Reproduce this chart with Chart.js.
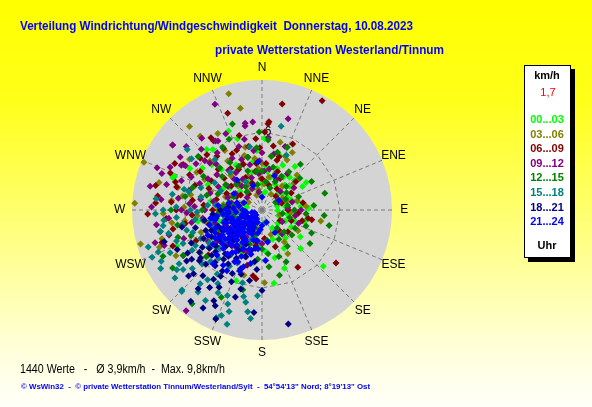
<!DOCTYPE html>
<html>
<head>
<meta charset="utf-8">
<script src="https://cdn.jsdelivr.net/npm/chart.js@4.4.0/dist/chart.umd.min.js"></script>
<style>
  html, body { margin: 0; padding: 0; background: #ffffff; }
  #chart { display: block; }
</style>
</head>
<body>
<canvas id="chart" width="592" height="407"></canvas>
<script>
// Richtung (Grad) / Geschwindigkeit (km/h), je Zeitblock
const directions = ["N", "NNE", "NE", "ENE", "E", "ESE", "SE", "SSE", "S", "SSW", "SW", "WSW", "W", "WNW", "NW", "NNW"];
const timeLabels = ["00...03", "03...06", "06...09", "09...12", "12...15", "15...18", "18...21", "21...24"];
const timeColors = ["#00ff00", "#808000", "#800000", "#800080", "#008000", "#008080", "#000080", "#0000ff"];
const ringValues = [6];
const maxSpeed = 10;

const h00 = [[337,6.6],[341,5.8],[37,4.2],[40,3.3],[71.6,2.4],[77,2.8],[132.5,6.4],[159,4.8],[170.7,5.7],[150,3.4],[317.5,6.3],[321,6.0],[291,7.2],[290,7.3],[200,5.8],[189,4.1],[247,7.1],[305,5.6],[315,4.4],[330,4.0],[345,3.0],[355,4.6],[5,3.4],[15,2.6],[25,3.8],[50,2.8],[60,3.6],[85,3.0],[95,2.4],[105,3.4],[115,2.0],[125,3.6],[140,2.8],[160,2.4],[175,3.2],[195,2.2],[215,2.4],[235,3.0],[255,3.4],[270,2.8],[280,4.0],[300,3.4],[320,2.8],[340,1.8],[10,1.4],[45,1.8],[75,1.2],[110,1.4],[150,1.6],[220,1.2],[280,1.2],[310,2.2],[260,5.0],[240,4.4],[2,5.5],
  [0,2.0],[8,3.0],[18,4.4],[28,2.2],[33,3.0],[42,2.6],[52,2.0],[58,4.0],[65,2.2],[80,1.8],[88,3.6],[100,2.0],[120,2.6],[130,1.6],[135,4.2],[145,2.2],[165,3.8],[170,1.0],[185,2.8],[205,3.6],[225,2.0],[245,1.6],[265,1.8],[285,2.6],[295,4.6],[305,3.0],[312,5.2],[325,3.6],[335,2.4],[350,3.8],[358,1.2],[20,3.4],[48,3.4],[68,1.6],[92,1.2],[108,2.6],[250,3.8],[230,4.6],[275,5.6],[300,6.4]];
const h03 = [[344,9.3],[348,8.0],[319,8.5],[292,9.8],[273,9.8],[254.4,9.7],[254,8.0],[250,8.4],[242,7.5],[27.8,5.0],[23.5,4.5],[9.5,4.2],[26.6,4.3],[100.5,4.6],[178,5.6],[149.4,3.9],[195.5,5.2],[313,5.5],[315,5.2],[285,6.7],[280,6.2],[300,5.8],[325,4.6],[335,3.8],[345,5.0],[355,3.2],[5,2.0],[20,3.0],[40,2.4],[60,1.8],[75,2.8],[95,2.2],[120,3.2],[135,2.4],[160,2.0],[190,2.6],[210,3.2],[225,2.0],[245,3.6],[260,2.8],[270,3.4],[290,4.2],[305,3.4],[315,2.6],[330,2.2],[350,1.6],[265,5.0],[275,1.8],[300,1.2],[235,5.8],[285,8.2],[330,6.8],[340,1.2],[15,5.4],
  [0,3.6],[12,2.6],[30,1.4],[50,3.2],[70,2.0],[85,3.4],[105,1.4],[145,3.0],[200,1.4],[218,2.6],[230,3.4],[240,1.6],[252,2.2],[258,4.4],[268,2.4],[278,3.0],[282,4.8],[288,1.6],[295,2.6],[298,5.0],[308,4.4],[318,3.6],[322,1.8],[328,5.4],[338,2.8],[342,4.4],[352,4.0],[358,2.4],[310,6.4],[272,6.0],[262,7.0],[320,7.4],[290,3.0],[250,5.0],[45,3.8],
  [268,7.6],[276,7.0],[282,5.6],[262,6.0],[305,6.8]];
const h06 = [[10.8,8.3],[28.8,9.6],[340.5,7.9],[4.5,6.8],[4,6.65],[324.7,6.8],[325,6.5],[306,8.5],[298,7.6],[277.7,8.1],[273.8,8.2],[100,3.6],[101,3.9],[80,3.2],[125.6,7.0],[148,5.2],[16.7,4.0],[17.8,4.3],[332,4.9],[337,5.0],[252,8.1],[187.8,5.1],[185,5.3],[285,6.8],[290,5.5],[300,4.5],[310,3.8],[315,6.0],[320,5.4],[330,3.6],[345,4.2],[350,3.0],[0,2.4],[15,2.0],[30,2.8],[45,1.5],[60,2.6],[90,2.0],[110,2.4],[130,2.6],[160,3.0],[175,2.2],[200,2.0],[220,3.6],[240,3.8],[255,4.2],[265,3.3],[275,4.5],[280,2.6],[295,3.0],[305,2.0],[320,1.6],[340,2.2],[260,6.0],[270,6.6],[230,5.4],[250,2.0],[215,2.6],[355,5.5],[310,6.2],[265,7.4],
  [5,3.6],[10,5.0],[22,3.2],[35,2.0],[50,3.4],[70,1.6],[95,2.8],[105,3.2],[120,1.6],[140,2.0],[190,2.8],[205,3.4],[225,2.4],[235,1.6],[245,3.0],[262,2.4],[270,3.8],[278,5.4],[283,3.6],[292,4.4],[298,2.2],[302,5.6],[308,3.0],[313,4.6],[318,2.8],[323,4.0],[328,5.6],[333,2.8],[338,3.8],[343,6.0],[348,5.0],[353,3.6],[358,4.8],[288,7.0],[296,6.2],[275,7.0],[245,5.6],[195,4.4],[2,6.0],[25,5.6],
  [258,7.0],[266,5.4],[283,8.4],[292,7.6],[300,7.0],[268,8.8],[248,7.4]];
const h09 = [[336,8.9],[16,7.3],[354,6.8],[348.6,6.6],[349,6.8],[334.6,6.5],[326,6.4],[327.5,6.3],[310,7.6],[306,8.5],[303,7.5],[299,7.1],[292,8.7],[290,8.2],[310.7,5.8],[271.6,8.5],[253,8.6],[258,8.0],[217,9.7],[0,4.4],[90,3.0],[265,7.2],[278,6.5],[285,5.8],[295,6.0],[300,4.8],[315,5.0],[320,4.0],[330,4.6],[340,5.2],[345,3.6],[355,2.8],[10,3.2],[25,2.6],[45,2.0],[75,2.4],[100,2.6],[120,1.8],[280,3.8],[270,4.4],[260,5.5],[250,6.4],[240,4.8],[290,2.8],[305,3.2],[320,2.4],[335,1.8],[350,1.4],[270,2.2],[250,3.0],[230,2.6],[215,3.5],[310,1.5],[325,3.5],[275,5.6],[5,5.6],[285,7.6],[320,7.2],[240,7.0],[200,3.4],
  [3,3.0],[12,4.4],[20,5.2],[35,3.4],[55,3.0],[65,1.4],[85,2.0],[110,3.0],[140,2.4],[180,2.6],[210,2.4],[225,3.8],[235,4.2],[245,2.2],[255,3.8],[262,4.6],[268,3.2],[273,5.2],[280,4.8],[283,2.4],[288,4.2],[293,5.2],[298,3.8],[302,2.4],[308,4.4],[312,5.4],[318,3.2],[322,5.6],[328,2.8],[332,3.8],[338,4.2],[342,2.6],[346,5.6],[352,4.6],[357,3.8],[290,6.6],[300,6.8],[270,6.2],[255,7.4],[282,8.8],
  [262,8.2],[268,5.8],[276,7.8],[295,7.8],[305,6.2],[315,6.6],[250,8.0]];
const h12 = [[341,7.0],[103,5.3],[119,2.9],[173,4.4],[216.7,9.0],[14.7,3.4],[46,2.6],[55,2.3],[237,8.2],[193.5,6.3],[172,3.4],[160,3.8],[328,5.7],[326,4.4],[10,4.2],[30,3.0],[70,3.0],[90,2.5],[110,3.6],[130,3.0],[150,2.6],[180,3.0],[200,2.8],[230,5.6],[250,5.8],[270,4.6],[290,3.6],[310,4.0],[340,3.2],[355,4.8],[20,1.8],[60,1.2],[100,1.6],[140,1.8],[200,1.5],[240,1.2],[280,2.2],[320,1.8],[350,2.0],[5,5.4],[40,4.6],[85,4.0],[125,4.5],[165,5.2],[215,4.2],[260,6.6],[300,5.2],[335,6.0],[260,2.5],[315,2.8],[75,5.0],
  [0,3.0],[8,2.2],[15,4.6],[25,2.4],[35,3.6],[50,3.8],[65,2.0],[80,2.0],[95,3.4],[105,2.2],[115,4.2],[135,2.4],[145,3.4],[155,4.4],[170,2.4],[185,3.8],[195,2.0],[210,3.4],[225,3.0],[235,4.6],[245,3.6],[255,2.2],[265,3.4],[275,3.0],[285,4.4],[295,2.4],[305,3.4],[315,4.6],[325,2.2],[332,3.8],[345,4.2],[352,3.0],[358,6.0],[22,5.2],[95,4.8],[240,7.0],[205,7.4],[280,6.0],[60,4.4],
  [270,7.0],[252,6.8],[288,5.6],[310,6.4],[245,8.4]];
const h15 = [[261,7.7],[248,8.6],[232,8.5],[225,8.7],[201,8.7],[197,9.2],[188,7.9],[183,6.6],[200,7.7],[211,6.6],[202,7.1],[203,9.0],[224.6,8.8],[246.7,9.2],[243,8.7],[237,7.6],[230,7.0],[220,7.4],[215,6.0],[240,6.2],[250,7.0],[255,6.0],[258,8.0],[265,6.6],[270,5.5],[245,5.2],[235,5.0],[225,5.6],[210,5.0],[205,4.5],[230,3.8],[240,3.2],[250,4.0],[260,4.6],[275,4.2],[220,3.0],[228,2.2],[238,2.6],[248,2.0],[195,5.8],[12.9,6.6],[309,7.4],[24,4.6],[306,6.7],[349,4.95],[317,5.3],[285,6.2],[295,3.5],[330,2.5],[218,8.0],[192,6.8],[228,4.4],[262,3.0],[280,7.0],[268,8.2],
  [200,2.4],[210,3.0],[215,4.2],[222,5.0],[228,6.2],[233,7.6],[238,4.8],[242,5.8],[247,6.6],[252,5.6],[256,7.4],[260,6.2],[264,7.6],[268,5.0],[272,6.6],[276,3.6],[282,4.8],[290,5.0],[218,6.8],[208,7.2],[212,8.2],[198,8.2],[190,7.2],[186,8.4],[240,9.0],[252,9.2],[235,8.0],[245,7.8],[225,3.4],[255,3.0],[265,2.4],[232,1.8],[243,1.4],[300,4.2],[320,3.8],
  [262,5.2],[270,7.6],[276,8.2],[284,5.8],[258,4.0]];
const h18 = [[218,8.9],[211,8.8],[208,7.9],[206,8.2],[203,9.1],[184.5,7.9],[167,9.0],[252,7.9],[227,7.2],[222,6.8],[215,6.5],[231,6.2],[236,5.8],[240,6.6],[228,5.2],[220,5.6],[212,6.0],[205,5.4],[200,4.8],[232,4.5],[244,5.0],[248,4.2],[225,4.0],[216,4.4],[210,3.6],[238,3.8],[195,6.3],[190,5.5],[223,3.2],[233,2.8],[242,3.4],[218,2.5],[205,2.9],[228,7.6],[214,7.2],[236,7.0],[245,6.0],[255,5.3],[260,4.5],[250,3.6],[199,3.8],[185,4.6],[230,1.8],[240,1.2],[220,1.5],[212,4.9],[226,6.0],[234,5.0],[219,7.8],[180,6.2],[197,7.0],[209,6.8],[258,6.3],[265,3.8],
  [190,2.4],[195,3.2],[200,3.8],[205,1.8],[210,2.6],[215,3.4],[220,4.4],[225,2.2],[230,3.2],[235,4.0],[240,2.4],[245,3.4],[250,4.6],[255,2.8],[260,3.6],[265,2.6],[270,3.2],[275,2.6],[228,4.8],[238,5.4],[208,4.2],[213,5.6],[218,4.8],[222,5.4],[232,6.0],[242,4.4],[203,6.0],[198,5.2],[188,4.0],[215,1.4],[225,0.8],[245,2.0],[252,1.4],[235,6.6],[245,7.2]];
const h21 = [[200,1.0],[205,1.5],[210,2.0],[215,2.5],[220,3.0],[225,3.5],[230,4.0],[235,2.2],[240,2.8],[245,3.3],[250,1.8],[255,2.4],[260,1.2],[265,2.0],[270,1.5],[212,3.8],[218,4.3],[228,1.4],[232,2.6],[238,3.6],[242,1.9],[248,2.5],[252,3.1],[258,3.7],[222,1.2],[226,2.0],[236,1.0],[246,1.4],[256,0.8],[196,2.4],[198,3.2],[204,3.9],[208,4.5],[214,1.8],[224,2.7],[234,3.1],[244,4.0],[254,4.2],[264,3.0],[268,2.6],[274,2.2],[280,1.8],[190,1.8],[186,3.0],[192,4.2],[216,3.3],[230,2.3],[240,2.1],[250,2.9],[262,3.5],[219,2.2],[227,3.0],[233,1.7],[243,2.4],[207,2.7],[213,1.2],[235,4.6],[225,4.9],[245,4.6],[355,3.7],[176,3.9],[20,2.8],[60,1.5],[150,2.0],[300,2.5],[320,3.0],[180,1.2],[200,5.0],[215,5.2],
  [185,1.5],[188,2.4],[194,3.5],[202,2.0],[206,3.3],[209,1.2],[211,2.9],[217,1.6],[221,3.6],[223,2.4],[229,3.4],[231,1.2],[237,2.9],[239,4.2],[241,3.1],[247,2.0],[249,3.8],[251,2.4],[257,1.6],[259,2.7],[261,4.0],[266,1.3],[271,2.8],[276,3.4],[282,2.6],[286,2.0],[292,1.5],[205,4.4],[215,4.0],[225,4.2],[232,3.6],[237,4.0],[210,0.8],[230,0.6],[250,0.6],[190,3.0],[170,2.5],[160,1.0],[0,1.0],[340,2.0],[210,5.4],[222,5.6],[198,4.6]];
const seriesValues = [h00, h03, h06, h09, h12, h15, h18, h21];

function polarToXY(p) {
    const a = p[0] * Math.PI / 180;
    return { x: p[1] * Math.sin(a), y: p[1] * Math.cos(a) };
}

const datasets = seriesValues.map((vals, i) => ({
    label: timeLabels[i],
    data: vals.map(polarToXY),
    backgroundColor: timeColors[i],
    borderColor: timeColors[i],
    borderWidth: 0,
    pointStyle: "rectRot",
    pointRadius: 3.5,
    pointHoverRadius: 3.5,
    order: seriesValues.length - 1 - i,
    clip: false,
}));

const backdrop = {
    id: "backdrop",
    beforeDraw(chart) {
        const ctx = chart.ctx;
        const g = ctx.createLinearGradient(0, 0, 0, chart.height);
        g.addColorStop(0, "#ffff00");
        g.addColorStop(0.25, "#ffff1a");
        g.addColorStop(0.6, "#ffff88");
        g.addColorStop(0.85, "#ffffd8");
        g.addColorStop(1, "#fffffa");
        ctx.save();
        ctx.fillStyle = g;
        ctx.fillRect(0, 0, chart.width, chart.height);
        ctx.restore();
    },
    beforeDatasetsDraw(chart) {
        const ctx = chart.ctx;
        const xs = chart.scales.x, ys = chart.scales.y;
        const pt = (deg, v) => {
            const a = deg * Math.PI / 180;
            return [xs.getPixelForValue(v * Math.sin(a)), ys.getPixelForValue(v * Math.cos(a))];
        };
        const [cx, cy] = pt(0, 0);
        const R = xs.getPixelForValue(maxSpeed) - cx;
        ctx.save();
        ctx.fillStyle = "#d4d4d4";
        ctx.beginPath();
        ctx.arc(cx, cy, R, 0, Math.PI * 2);
        ctx.fill();

        ctx.strokeStyle = "#7a7a7a";
        ctx.lineWidth = 1;
        ctx.setLineDash([4, 3]);
        directions.forEach((d, i) => {
            const [x, y] = pt(i * 22.5, maxSpeed);
            ctx.beginPath();
            ctx.moveTo(cx, cy);
            ctx.lineTo(x, y);
            ctx.stroke();
        });
        ringValues.forEach(v => {
            ctx.beginPath();
            directions.forEach((d, i) => {
                const [x, y] = pt(i * 22.5, v);
                if (i === 0) ctx.moveTo(x, y); else ctx.lineTo(x, y);
            });
            ctx.closePath();
            ctx.stroke();
        });
        ctx.setLineDash([]);

        ctx.fillStyle = "#000000";
        ctx.font = "12px Arial, 'Liberation Sans', sans-serif";
        ctx.textAlign = "center";
        ctx.textBaseline = "middle";
        directions.forEach((d, i) => {
            const [x, y] = pt(i * 22.5, maxSpeed * 1.095);
            ctx.fillText(d, x, y);
        });
        ringValues.forEach(v => {
            const [x, y] = pt(0, v);
            ctx.fillText(String(v), x + 6, y);
        });
        ctx.restore();
    },
    afterDraw(chart) {
        const ctx = chart.ctx;
        ctx.save();
        ctx.textBaseline = "alphabetic";
        ctx.textAlign = "left";
        ctx.fillStyle = "#0000ff";
        ctx.font = "bold 13px Arial, 'Liberation Sans', sans-serif";
        ctx.fillText("Verteilung Windrichtung/Windgeschwindigkeit  Donnerstag, 10.08.2023", 20, 30, 393);
        ctx.fillText("private Wetterstation Westerland/Tinnum", 215, 54, 229);

        // Legendenkasten
        ctx.fillStyle = "#000000";
        ctx.fillRect(528, 69, 47, 193);
        ctx.fillStyle = "#ffffff";
        ctx.fillRect(524, 65, 47, 193);
        ctx.strokeStyle = "#000000";
        ctx.lineWidth = 1;
        ctx.strokeRect(524.5, 65.5, 46, 192);

        ctx.textAlign = "center";
        ctx.fillStyle = "#000000";
        ctx.font = "bold 11px Arial, 'Liberation Sans', sans-serif";
        ctx.fillText("km/h", 547, 79);
        ctx.fillStyle = "#ff0000";
        ctx.font = "11px Arial, 'Liberation Sans', sans-serif";
        ctx.fillText("1,7", 548, 96);
        ctx.font = "bold 11px Arial, 'Liberation Sans', sans-serif";
        timeLabels.forEach((t, i) => {
            ctx.fillStyle = timeColors[i];
            ctx.fillText(t, 547, 123 + i * 14.6);
        });
        ctx.fillStyle = "#000000";
        ctx.fillText("Uhr", 547, 249);

        ctx.textAlign = "left";
        ctx.fillStyle = "#000000";
        ctx.font = "12px Arial, 'Liberation Sans', sans-serif";
        ctx.fillText("1440 Werte   -   \u00d8 3,9km/h  -  Max. 9,8km/h", 20, 373, 205);
        ctx.fillStyle = "#0000ff";
        ctx.font = "bold 8px Arial, 'Liberation Sans', sans-serif";
        ctx.fillText("\u00a9 WsWin32  -  \u00a9 private Wetterstation Tinnum/Westerland/Sylt  -  54\u00b054'13\" Nord; 8\u00b019'13\" Ost", 21, 389, 349);
        ctx.restore();
    },
};

new Chart(document.getElementById("chart").getContext("2d"), {
    type: "scatter",
    data: { datasets: datasets },
    options: {
        responsive: false,
        animation: false,
        devicePixelRatio: 1,
        layout: { padding: { left: 132, right: 200, top: 80, bottom: 67 } },
        scales: {
            x: { type: "linear", min: -maxSpeed, max: maxSpeed, display: false },
            y: { type: "linear", min: -maxSpeed, max: maxSpeed, display: false },
        },
        plugins: {
            legend: { display: false },
            tooltip: { enabled: false },
        },
    },
    plugins: [backdrop],
});
</script>
</body>
</html>
